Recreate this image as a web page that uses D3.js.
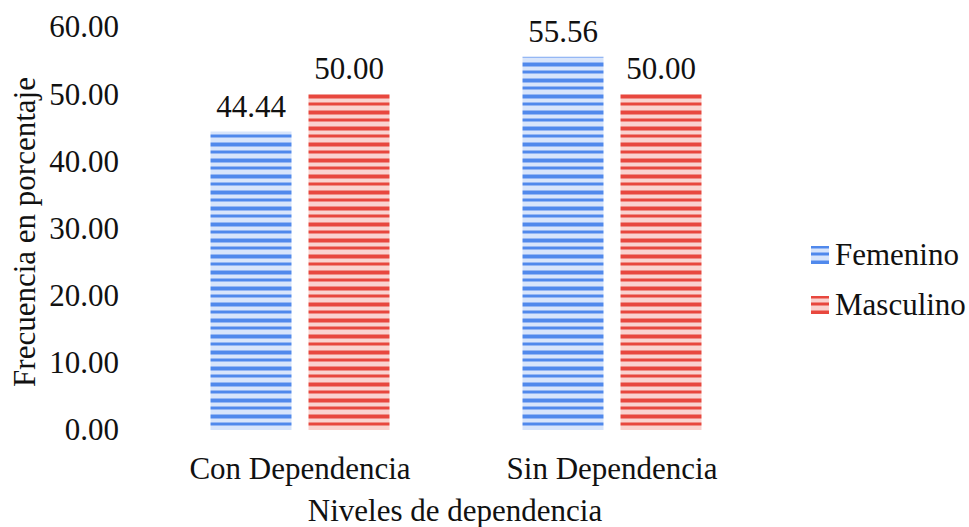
<!DOCTYPE html>
<html>
<head>
<meta charset="utf-8">
<script src="https://cdn.jsdelivr.net/npm/d3@7"></script>
<style>
  html, body { margin: 0; padding: 0; background: #fff; }
  text { font-family: "Liberation Serif", "Times New Roman", serif; fill: #111; }
</style>
</head>
<body>
<svg id="chart" width="969" height="527"></svg>
<script>
// Data
const categories = ["Con Dependencia", "Sin Dependencia"];
const seriesNames = ["Femenino", "Masculino"];
const femenino = [44.44, 55.56];
const masculino = [50.00, 50.00];
const yTicks = [0, 10, 20, 30, 40, 50, 60];

const FS = 31;
const svg = d3.select("#chart");
const margin = { left: 144, right: 201, top: 27, bottom: 97 };
const W = 969, H = 527;

const x0 = d3.scaleBand().domain(categories).range([margin.left, W - margin.right]);
const y = d3.scaleLinear().domain([0, 60]).range([H - margin.bottom, margin.top]);
const barW = 81, gap = 17;

// Striped fills
const defs = svg.append("defs");
function stripes(id, dark, mid, light) {
  const p = defs.append("pattern").attr("id", id).attr("patternUnits", "userSpaceOnUse")
    .attr("width", 8).attr("height", 16);
  const rows = [
    [0, 2, dark], [2, 1, mid], [3, 3, light], [6, 1, mid], [7, 2, dark],
    [9, 1, mid], [10, 4, light], [14, 1, mid], [15, 1, dark]
  ];
  rows.forEach(r => p.append("rect").attr("x", 0).attr("y", r[0]).attr("width", 8).attr("height", r[1]).attr("fill", r[2]));
}
stripes("pf", "#5089ec", "#95b7f4", "#d8e5fb");
stripes("pm", "#e8473e", "#f08d86", "#fad3d0");
const fills = ["url(#pf)", "url(#pm)"];

const data = categories.map((c, i) => ({ cat: c, vals: [femenino[i], masculino[i]] }));

const groups = svg.selectAll("g.cat").data(data).enter().append("g").attr("class", "cat");
groups.each(function (d) {
  const g = d3.select(this);
  const cx = x0(d.cat) + x0.bandwidth() / 2;
  d.vals.forEach((v, k) => {
    const bx = k === 0 ? cx - gap / 2 - barW : cx + gap / 2;
    g.append("rect").attr("x", bx).attr("y", y(v)).attr("width", barW)
      .attr("height", y(0) - y(v)).attr("fill", fills[k]);
    g.append("text").attr("x", bx + barW / 2).attr("y", y(v) - 15)
      .attr("text-anchor", "middle").attr("font-size", FS).text(v.toFixed(2));
  });
});

// Y axis labels
const yAxis = d3.axisLeft(y).tickValues(yTicks).tickFormat(d => d.toFixed(2)).tickSize(0).tickPadding(0);
const ya = svg.append("g").attr("transform", `translate(119,0)`).call(yAxis);
ya.select(".domain").remove();
ya.selectAll("text").attr("font-size", FS).attr("font-family", "Liberation Serif").attr("fill", "#111");

// X axis labels
const xAxis = d3.axisBottom(x0).tickSize(0).tickPadding(0);
const xa = svg.append("g").attr("transform", `translate(0,${y(0) + 27})`).call(xAxis);
xa.select(".domain").remove();
xa.selectAll("text").attr("font-size", FS).attr("font-family", "Liberation Serif").attr("fill", "#111");

// Axis titles
svg.append("text").attr("x", 455).attr("y", 521).attr("text-anchor", "middle")
  .attr("font-size", FS).text("Niveles de dependencia");
svg.append("text").attr("transform", "translate(35,232) rotate(-90)").attr("text-anchor", "middle")
  .attr("font-size", FS).text("Frecuencia en porcentaje");

// Legend
const leg = svg.append("g").selectAll("g").data(seriesNames).enter().append("g")
  .attr("transform", (d, i) => `translate(811,${246 + i * 50})`);
leg.append("rect").attr("width", 18).attr("height", 18).attr("fill", (d, i) => fills[i]);
leg.append("text").attr("x", 24).attr("y", 19).attr("font-size", FS).text(d => d);
</script>
</body>
</html>
